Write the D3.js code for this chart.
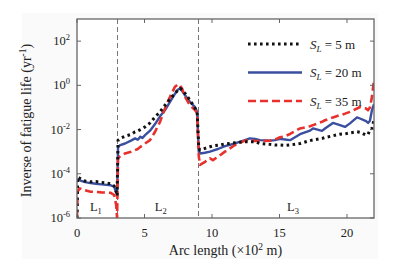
<!DOCTYPE html>
<html>
<head>
<meta charset="utf-8">
<script src="https://cdn.jsdelivr.net/npm/d3@7"></script>
<style>
  body { margin: 0; background: #fff; }
  text { font-family: "Liberation Serif", "Times New Roman", serif; fill: #222; }
</style>
</head>
<body>
<div class="vis"></div>
<script>
// arc length (x 10^2 m)
const arcX = [0, 0.05, 0.2, 0.6, 1.0, 1.4, 1.8, 2.2, 2.5, 2.75, 2.9, 2.97,
  3.04, 3.2, 3.56, 4.0, 4.3, 4.5, 4.7, 4.85, 5.04, 5.41, 5.78, 6.15, 6.52, 6.89, 7.26, 7.48, 7.63, 7.78,
  8.0, 8.37, 8.74, 8.9, 9.02, 9.11, 9.48, 9.85, 10.07, 10.44, 10.96, 11.7, 12.44, 12.81, 13.19,
  13.56, 14.3, 14.67, 15.04, 15.41, 15.78, 16.52, 17.26, 17.48, 18.15, 18.37, 18.96, 19.48,
  19.85, 20.22, 20.74, 20.96, 21.41, 21.56, 21.7, 21.85, 22.0];

// log10 of inverse fatigue life (yr^-1)
const logS5 = [-6, -4.15, -4.2, -4.33, -4.36, -4.35, -4.39, -4.42, -4.45, -4.55, -4.8, -5.0,
  -2.48, -2.40, -2.30, -2.22, -2.10, -2.06, -2.0, -1.95, -1.88, -1.7, -1.43, -1.2, -0.90, -0.62, -0.35, -0.22, -0.13, -0.2,
  -0.36, -0.67, -1.04, -1.2, -2.84, -2.93, -2.85, -2.78, -2.74, -2.71, -2.65, -2.6, -2.55, -2.55, -2.55,
  -2.63, -2.67, -2.70, -2.70, -2.72, -2.70, -2.63, -2.50, -2.47, -2.40, -2.36, -2.28, -2.21,
  -2.20, -2.15, -2.10, -2.12, -2.25, -2.22, -2.0, -1.95, -1.55];
const logS20 = [-4.25, -4.27, -4.3, -4.38, -4.42, -4.45, -4.48, -4.50, -4.52, -4.58, -4.85, -4.9,
  -2.8, -2.70, -2.63, -2.5, -2.40, -2.46, -2.32, -2.38, -2.25, -2.05, -1.75, -1.4, -1.12, -0.75, -0.38, -0.19, -0.14, -0.25,
  -0.45, -0.75, -0.98, -1.2, -3.0, -3.08, -3.05, -3.0, -2.95, -2.88, -2.75, -2.63, -2.48, -2.4, -2.42,
  -2.48, -2.5, -2.48, -2.42, -2.45, -2.48, -2.21, -2.05, -1.95, -2.06, -1.95, -1.70, -1.80,
  -1.88, -1.72, -1.45, -1.5, -1.62, -1.70, -1.6, -1.12, -0.85];
const logS35 = [-6, -4.8, -4.66, -4.75, -4.81, -4.82, -4.84, -4.85, -4.86, -4.96, -5.4, -6,
  -3.3, -3.2, -3.08, -3.0, -2.93, -2.88, -2.78, -2.72, -2.63, -2.48, -2.10, -1.65, -1.04, -0.52, -0.06, 0.05, 0.0, -0.14,
  -0.52, -0.90, -1.12, -1.26, -3.2, -3.6, -3.46, -3.3, -3.38, -3.23, -3.0, -2.7, -2.5, -2.48, -2.52,
  -2.52, -2.5, -2.45, -2.35, -2.3, -2.2, -1.95, -1.85, -1.80, -1.65, -1.58, -1.45, -1.35,
  -1.28, -1.2, -1.05, -0.98, -1.05, -1.12, -1.0, -0.52, 0.25];

const xTicks = [0, 5, 10, 15, 20];
const yTickExp = [-6, -4, -2, 0, 2];
const segmentBounds = [3, 9];
const segmentLabels = [{ name: "L", sub: "1", x: 1.4 }, { name: "L", sub: "2", x: 6.2 }, { name: "L", sub: "3", x: 16.0 }];
const legendSL = ["5", "20", "35"];

const W = 407, H = 265;
const margin = { top: 19, right: 33, bottom: 47, left: 77 };
const width = W - margin.left - margin.right;
const height = H - margin.top - margin.bottom;

const svgRoot = d3.select(".vis").append("svg").attr("width", W).attr("height", H);
svgRoot.append("rect").attr("x", 22).attr("y", 13).attr("width", 356).attr("height", 246).attr("fill", "#fafafa");
const svg = svgRoot.append("g").attr("transform", "translate(" + margin.left + "," + margin.top + ")");
svg.append("rect").attr("width", width).attr("height", height).attr("fill", "#fff");

const x = d3.scaleLinear().domain([0, 22]).range([0, width]);
const y = d3.scaleLog().domain([1e-6, 1e3]).range([height, 0]);

// vertical dashed separators
svg.selectAll(".sep").data(segmentBounds).enter().append("line")
  .attr("x1", d => x(d)).attr("x2", d => x(d))
  .attr("y1", 0).attr("y2", height)
  .attr("stroke", "#666").attr("stroke-width", 0.9).attr("stroke-dasharray", "5,3");

const series = [
  { vals: logS5, color: "#111", width: 3, dash: "2.6,3.4" },
  { vals: logS20, color: "#3b4fa0", width: 2.4, dash: null },
  { vals: logS35, color: "#e8302c", width: 2.6, dash: "8,4" }
];

const line = d3.line().x(d => x(d[0])).y(d => y(Math.pow(10, d[1])));

svg.append("clipPath").attr("id", "clip").append("rect").attr("width", width).attr("height", height);
const plotG = svg.append("g").attr("clip-path", "url(#clip)");
// blue under, then red, black dotted on top
[1, 2, 0].forEach(i => {
  const s = series[i];
  plotG.append("path")
    .datum(arcX.map((v, k) => [v, s.vals[k]]))
    .attr("d", line)
    .attr("fill", "none")
    .attr("stroke", s.color)
    .attr("stroke-width", s.width)
    .attr("stroke-linejoin", "round")
    .attr("stroke-dasharray", s.dash);
});

// frame
svg.append("rect").attr("width", width).attr("height", height)
  .attr("fill", "none").attr("stroke", "#666").attr("stroke-width", 1.3);

// ticks (inward, mirrored)
const tl = 4;
xTicks.forEach(t => {
  svg.append("line").attr("x1", x(t)).attr("x2", x(t)).attr("y1", height).attr("y2", height - tl).attr("stroke", "#666");
  svg.append("line").attr("x1", x(t)).attr("x2", x(t)).attr("y1", 0).attr("y2", tl).attr("stroke", "#666");
  svg.append("text").attr("x", x(t)).attr("y", height + 19).attr("text-anchor", "middle")
    .attr("font-size", 12.5).text(t);
});
yTickExp.forEach(e => {
  const yy = y(Math.pow(10, e));
  svg.append("line").attr("x1", 0).attr("x2", tl).attr("y1", yy).attr("y2", yy).attr("stroke", "#666");
  svg.append("line").attr("x1", width).attr("x2", width - tl).attr("y1", yy).attr("y2", yy).attr("stroke", "#666");
  const t = svg.append("text").attr("x", -7).attr("y", yy + 4).attr("text-anchor", "end").attr("font-size", 12.5);
  t.append("tspan").text("10");
  t.append("tspan").attr("dy", -5).attr("font-size", 8.5).text(e);
});

// segment labels
segmentLabels.forEach(l => {
  const t = svg.append("text").attr("x", x(l.x)).attr("y", height - 7).attr("text-anchor", "middle").attr("font-size", 12.5);
  t.append("tspan").text(l.name);
  t.append("tspan").attr("dy", 3).attr("font-size", 8.5).text(l.sub);
});

// legend
const legend = svg.append("g").attr("transform", "translate(" + (248 - margin.left) + "," + (44 - margin.top) + ")");
series.forEach((s, i) => {
  const g = legend.append("g").attr("transform", "translate(0," + (i * 28.5) + ")");
  g.append("line").attr("x1", 0).attr("x2", 54).attr("y1", 0).attr("y2", 0)
    .attr("stroke", s.color).attr("stroke-width", s.width).attr("stroke-dasharray", s.dash);
  const t = g.append("text").attr("x", 62).attr("y", 4.5).attr("font-size", 13);
  t.append("tspan").attr("font-style", "italic").text("S");
  t.append("tspan").attr("font-style", "italic").attr("dy", 3).attr("font-size", 9).text("L");
  t.append("tspan").attr("dy", -3).text(" = " + legendSL[i] + " m");
});

// axis titles
const xt = svg.append("text").attr("x", width / 2).attr("y", height + 37).attr("text-anchor", "middle").attr("font-size", 14);
xt.append("tspan").text("Arc length (\u00d710");
xt.append("tspan").attr("dy", -5).attr("font-size", 9.5).text("2");
xt.append("tspan").attr("dy", 5).text(" m)");

const yt = svg.append("text").attr("transform", "translate(-46," + (height / 2 + 2) + ") rotate(-90)")
  .attr("text-anchor", "middle").attr("font-size", 14);
yt.append("tspan").text("Inverse of fatigue life (yr");
yt.append("tspan").attr("dy", -5).attr("font-size", 9.5).text("-1");
yt.append("tspan").attr("dy", 5).text(")");
</script>
</body>
</html>
